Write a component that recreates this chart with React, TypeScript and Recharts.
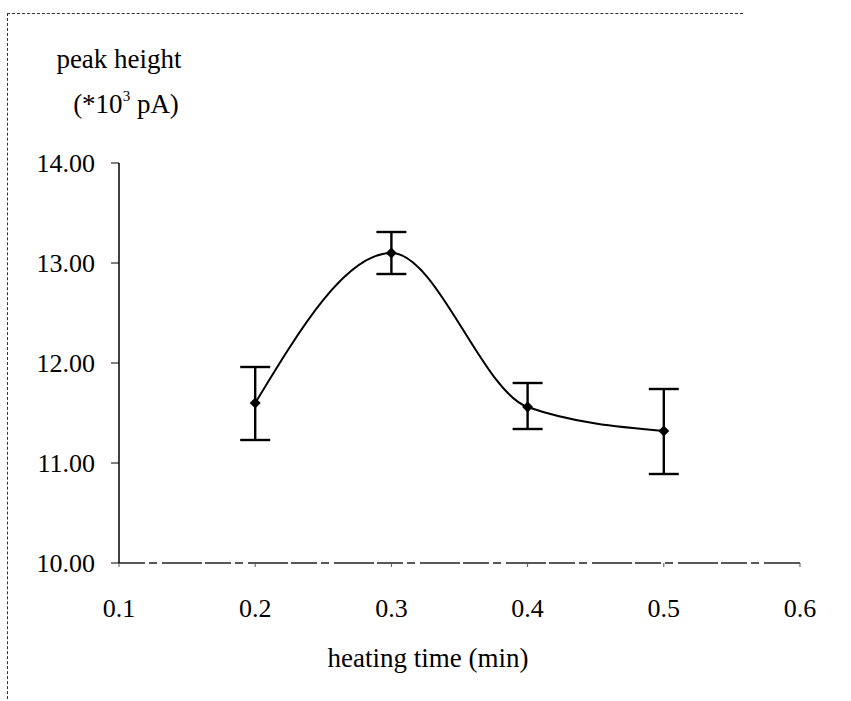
import {
  LineChart,
  Line,
  XAxis,
  YAxis,
  ErrorBar,
} from "recharts";

// heating time (min) against peak height (*10^3 pA)
const heatingTime = [0.2, 0.3, 0.4, 0.5];
const peakHeight = [11.6, 13.1, 11.56, 11.32];
const errorLow = [0.37, 0.21, 0.22, 0.43];
const errorHigh = [0.36, 0.21, 0.24, 0.42];

const xTicks = [0.1, 0.2, 0.3, 0.4, 0.5, 0.6];
const yTicks = [10, 11, 12, 13, 14];

const data = heatingTime.map((t, i) => ({
  time: t,
  peak: peakHeight[i],
  err: [errorLow[i], errorHigh[i]],
}));

const FONT = "'Liberation Serif', 'Times New Roman', serif";

const Diamond = (props: any) => {
  const { cx, cy } = props;
  if (cx == null || cy == null) return null;
  const r = 5.5;
  return (
    <path
      d={`M${cx},${cy - r}L${cx + r},${cy}L${cx},${cy + r}L${cx - r},${cy}Z`}
      fill="#000"
    />
  );
};

const YTitle = (props: any) => {
  const { viewBox } = props;
  const cx = viewBox.x + viewBox.width + 3;
  const top = viewBox.y;
  return (
    <text fontFamily={FONT} fontSize={27} fill="#000" textAnchor="middle">
      <tspan x={cx - 3} y={top - 95}>peak height</tspan>
      <tspan x={cx + 4} y={top - 50}>
        (*10
        <tspan fontSize={15} dy={-12}>3</tspan>
        <tspan dy={12}> pA)</tspan>
      </tspan>
    </text>
  );
};

const XTitle = (props: any) => {
  const { viewBox } = props;
  return (
    <text
      x={428}
      y={viewBox.y + 104}
      fontFamily={FONT}
      fontSize={27}
      fill="#000"
      textAnchor="middle"
    >
      heating time (min)
    </text>
  );
};

export default function App() {
  return (
    <div
      style={{
        position: "absolute",
        left: 0,
        top: 0,
        width: 851,
        height: 701,
        background: "#fff",
        overflow: "hidden",
      }}
    >
      {/* broken frame round the figure */}
      <div
        style={{
          position: "absolute",
          left: 7,
          top: 13,
          width: 735,
          height: 700,
          borderLeft: "1px dashed #333",
          borderTop: "1px dashed #333",
        }}
      />
      <LineChart
        width={851}
        height={701}
        data={data}
        margin={{ top: 163, right: 51, bottom: 0, left: 39 }}
        style={{ position: "absolute", left: 0, top: 0 }}
      >
        <XAxis
          dataKey="time"
          type="number"
          domain={[0.1, 0.6]}
          ticks={xTicks}
          tickFormatter={(v: number) => v.toFixed(1)}
          axisLine={{ stroke: "#222", strokeWidth: 1.3, strokeDasharray: "26 4 8 5 40 3" }}
          tickLine={{ stroke: "#555" }}
          tickSize={4}
          tickMargin={32}
          height={138}
          tick={{ fill: "#000", fontSize: 26, fontFamily: FONT }}
          label={{ content: XTitle }}
        />
        <YAxis
          type="number"
          domain={[10, 14]}
          ticks={yTicks}
          tickFormatter={(v: number) => v.toFixed(2)}
          axisLine={{ stroke: "#000", strokeWidth: 1.5 }}
          tickLine={{ stroke: "#000" }}
          tickSize={8}
          tickMargin={16}
          width={80}
          tick={{ fill: "#000", fontSize: 26, fontFamily: FONT }}
          label={{ content: YTitle }}
        />
        <Line
          type="monotone"
          dataKey="peak"
          stroke="#000"
          strokeWidth={2}
          dot={<Diamond />}
          activeDot={false}
          isAnimationActive={false}
        >
          <ErrorBar
            dataKey="err"
            direction="y"
            width={15}
            stroke="#000"
            strokeWidth={2.4}
            isAnimationActive={false}
          />
        </Line>
      </LineChart>
    </div>
  );
}
